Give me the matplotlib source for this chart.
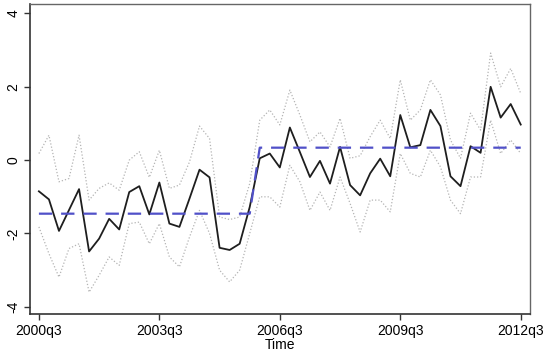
import matplotlib
matplotlib.use("Agg")
import matplotlib.pyplot as plt
import numpy as np

plt.rcParams["font.family"] = ["Liberation Sans", "DejaVu Sans"]

# quarterly series, 2000q3 .. 2012q3 (49 quarters)
tick_labels = ["2000q3", "2003q3", "2006q3", "2009q3", "2012q3"]

estimate = [
    -0.85, -1.07, -1.93, -1.36, -0.79, -2.49, -2.14, -1.60, -1.89, -0.87,
    -0.71, -1.48, -0.61, -1.73, -1.82, -1.05, -0.26, -0.47, -2.39, -2.45,
    -2.28, -1.28, 0.05, 0.18, -0.20, 0.89, 0.22, -0.46, -0.02, -0.64,
    0.36, -0.68, -0.96, -0.36, 0.04, -0.44, 1.23, 0.35, 0.41, 1.37,
    0.93, -0.44, -0.71, 0.38, 0.20, 2.00, 1.16, 1.53, 0.97,
]
upper = [
    0.18, 0.68, -0.59, -0.50, 0.68, -1.09, -0.77, -0.62, -0.82, 0.00,
    0.23, -0.47, 0.27, -0.77, -0.68, -0.05, 0.93, 0.59, -1.55, -1.62,
    -1.55, -0.64, 1.09, 1.37, 0.96, 1.91, 1.23, 0.50, 0.77, 0.36,
    1.14, 0.05, 0.12, 0.64, 1.09, 0.59, 2.19, 1.09, 1.37, 2.19,
    1.78, 0.55, 0.05, 1.28, 0.82, 2.92, 2.00, 2.50, 1.82,
]
lower = [
    -1.82, -2.55, -3.19, -2.41, -2.28, -3.60, -3.14, -2.64, -2.87, -1.73,
    -1.69, -2.28, -1.73, -2.64, -2.91, -2.10, -1.37, -2.00, -3.00, -3.32,
    -3.00, -2.00, -1.00, -1.00, -1.28, -0.14, -0.59, -1.37, -0.87, -1.37,
    -0.46, -1.18, -1.96, -1.09, -1.09, -1.41, 0.18, -0.36, -0.46, 0.27,
    -0.18, -1.09, -1.46, -0.46, -0.46, 1.09, 0.18, 0.55, 0.18,
]
regime_mean = [-1.46] * 22 + [0.34] * 27

t = np.arange(len(estimate))

fig = plt.figure(figsize=(5.53, 3.57), dpi=100)
ax = fig.add_axes([0.054, 0.12, 0.904, 0.869])

ax.plot(t, upper, color="#b4b4b4", lw=0.9, ls=(0, (1, 1.6)))
ax.plot(t, lower, color="#b4b4b4", lw=0.9, ls=(0, (1, 1.6)))
ax.plot(t, estimate, color="#1e1e1e", lw=1.3)
ax.plot(t, regime_mean, color="#5050c8", lw=1.6, ls=(0, (6, 4)))

ax.set_xlim(-0.9, 48.9)
ax.set_ylim(-4.2, 4.26)
ax.set_xticks([0, 12, 24, 36, 48])
ax.set_xticklabels(tick_labels, fontsize=10)
ax.set_yticks([-4, -2, 0, 2, 4])
ax.set_yticklabels(["-4", "-2", "0", "2", "4"], fontsize=10, rotation=90, va="center")
ax.tick_params(direction="out", length=4, width=1, color="#333333", pad=3)
ax.set_xlabel("Time", fontsize=10, labelpad=0)

for side in ["left", "bottom"]:
    ax.spines[side].set_color("#333333")
    ax.spines[side].set_linewidth(1.2)
for side in ["top", "right"]:
    ax.spines[side].set_color("#666666")
    ax.spines[side].set_linewidth(1.0)

fig.savefig("out.png", dpi=100)
